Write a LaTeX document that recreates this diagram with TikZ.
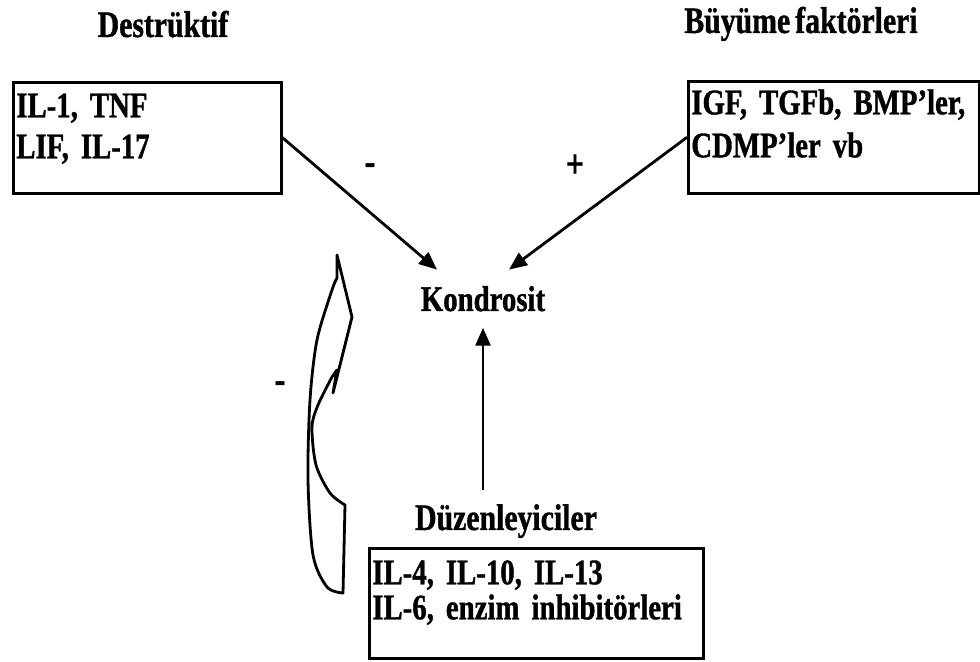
\documentclass[tikz,border=0pt]{standalone}
\usepackage{fontspec}
\setmainfont{Liberation Serif}[FakeStretch=0.8, WordSpace=0.7, FakeBold=1]
\usepackage{tikz}
\usetikzlibrary{arrows.meta}

\begin{document}
\begin{tikzpicture}[x=0.5pt, y=-0.5pt,
        yazi/.style={font=\fontsize{18}{17.5}\selectfont\bfseries, inner sep=2pt},
        baslik/.style={font=\fontsize{18.6}{18}\selectfont\bfseries, inner sep=2pt, anchor=base},
        isaret/.style={font=\fontsize{20}{20}\selectfont\bfseries, inner sep=2pt},
        kutu/.style={yazi, draw, line width=1.3pt, align=left, anchor=north west, inner sep=1.5pt},
        ok/.style={-{Triangle[length=9pt,width=7.5pt]}, line width=1.4pt}]
        \useasboundingbox (0,0) rectangle (980,662);

        \node[baslik] (destr) at (163,37) {Destrüktif};
        \node[baslik] (buyume) at (801,33) {Büyüme faktörleri};
        \node[kutu, text width=131pt, text height=16pt, text depth=36.5pt] (ilbir) at (12,81) {IL-1, TNF\\[3pt]LIF, IL-17};
        \node[kutu, text width=142.5pt, text height=15pt, text depth=38pt] (igf) at (687,80) {IGF, TGFb, BMP’ler,\\[4pt]CDMP’ler vb};
        \node[yazi, anchor=base] (kond) at (483,311) {Kondrosit};
        \node[baslik] (duzen) at (506,530) {Düzenleyiciler};
        \node[kutu, text width=164pt, text height=16.5pt, text depth=35.5pt] (ildort) at (368,547) {IL-4, IL-10, IL-13\\IL-6, enzim inhibitörleri};

        \node[isaret] (eksi) at (370,169) {-};
        \node[isaret] (arti) at (575,166) {+};
        \node[isaret] (eksiiki) at (280,387) {-};

        \draw[ok] (ilbir.east) -- ([xshift=-23pt,yshift=6pt]kond.north);
        \draw[ok] (igf.west) -- ([xshift=13pt,yshift=6pt]kond.north);
        \draw[ok, shorten <=5pt, shorten >=6pt] (kond.south |- duzen.north) -- (kond.south);

        % kivrik blok ok
        \draw[line width=1.4pt, line join=round] (337,255) -- (352,317) -- (333,393) -- (337,370) -- (332,377)
            -- plot[smooth] coordinates {(332,377) (318,405) (312,427) (316,465) (330,493) (345,505)}
            -- (343,593)
            -- plot[smooth] coordinates {(343,593) (327,587) (313,555) (308,480) (310,400) (317,340) (332,290) (337,278)}
            -- cycle;
\end{tikzpicture}
\end{document}
